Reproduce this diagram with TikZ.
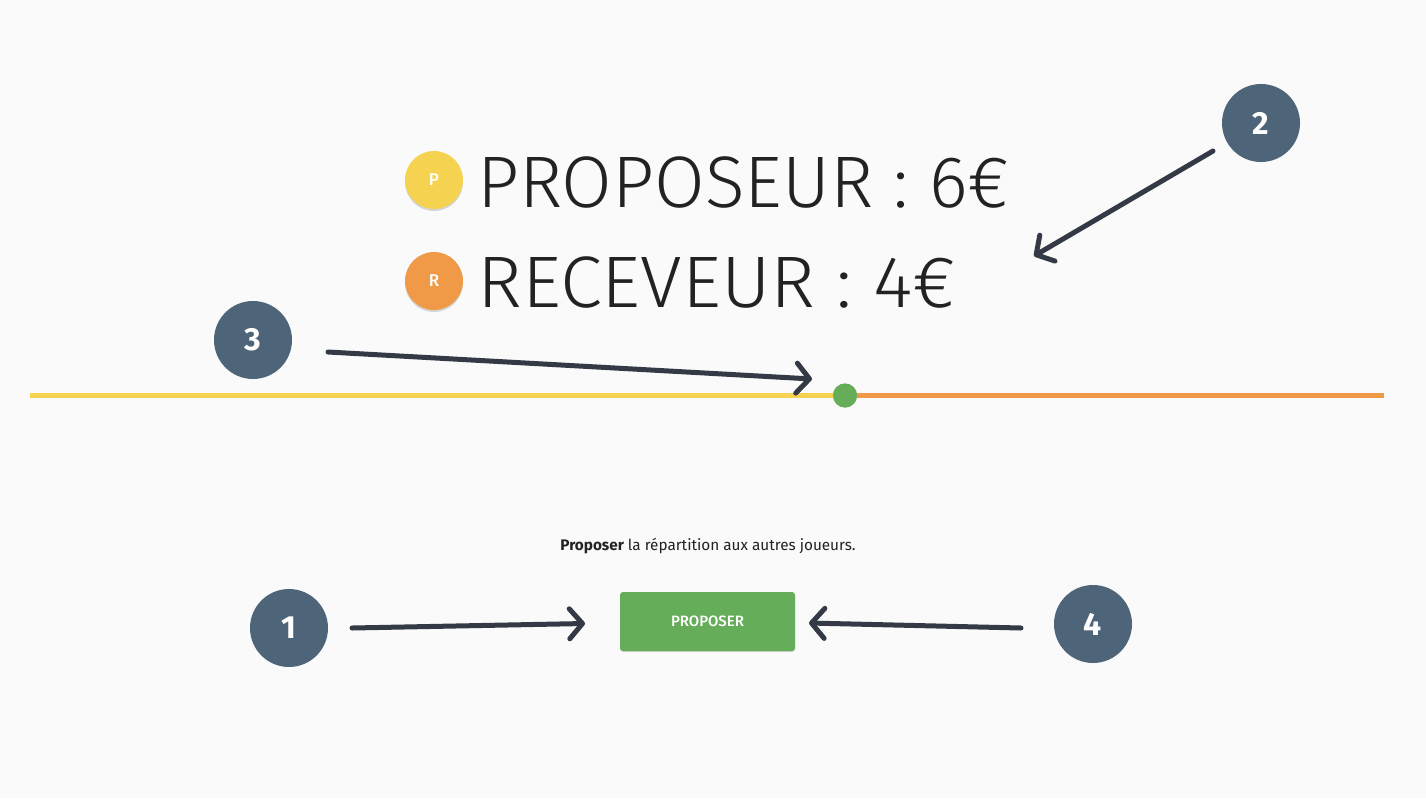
\documentclass[tikz,border=0pt]{standalone}
\usepackage{fontspec}
\setmainfont{Fira Sans}
\newfontfamily\lightfont{Fira Sans}[UprightFont={* Light}]
\newfontfamily\medfont{Fira Sans}[UprightFont={* Medium}]
\usetikzlibrary{arrows.meta,shadows}
\definecolor{bgc}{HTML}{FAFAFA}
\definecolor{yel}{HTML}{F5D24F}
\definecolor{ora}{HTML}{F09A48}
\definecolor{grn}{HTML}{66AD5A}
\definecolor{slate}{HTML}{4E6479}
\definecolor{arr}{HTML}{333A45}
\definecolor{txt}{HTML}{222222}
\tikzset{
  numcirc/.style={circle, fill=slate, minimum size=78pt, inner sep=0pt, text=white, font=\bfseries\fontsize{32}{32}\selectfont},
  rolecirc/.style={circle, minimum size=58pt, inner sep=0pt, text=white, font=\medfont\fontsize{17}{17}\selectfont,
     drop shadow={shadow xshift=0pt, shadow yshift=-2pt, opacity=0.15, fill=black}},
  bigtext/.style={anchor=base west, inner sep=0pt, text=txt, font=\lightfont\fontsize{73}{73}\selectfont},
  pointer/.style={draw=arr, line width=5pt, line cap=round, -{Straight Barb[length=13pt, width=30pt, round]}},
  btnstyle/.style={rounded corners=3pt, fill=grn, minimum width=175pt, minimum height=59pt, text=white,
     font=\medfont\fontsize{15}{15}\selectfont,
     drop shadow={shadow xshift=0pt, shadow yshift=-1pt, opacity=0.15, fill=black}},
  bar/.style={line width=5pt},
}
\begin{document}
\begin{tikzpicture}[x=1pt,y=-1pt]
\fill[bgc] (0,0) rectangle (1426,798);
\useasboundingbox (0,0) rectangle (1426,798);
% score lines
\node[rolecirc, fill=yel] (pc) at (434,180) {P};
\node[rolecirc, fill=ora] (rc) at (434,281) {R};
\node[bigtext, xscale=1.005] (prop) at (477,207) {PROPOSEUR : 6€};
\node[bigtext, xscale=1.04] (recv) at (477,307) {RECEVEUR : 4€};
% slider
\coordinate (sl) at (30,395.5);
\coordinate (sr) at (1384,395.5);
\node[circle, fill=grn, minimum size=24pt, inner sep=0pt] (knob) at (845,395.5) {};
\draw[bar, yel] (sl) -- (knob.center);
\draw[bar, ora] (knob.center) -- (sr);
\node[circle, fill=grn, minimum size=24pt, inner sep=0pt] at (knob) {};
% caption and button
\node[text=txt, font=\fontsize{15.3}{15.3}\selectfont] (cap) at (708,546) {\textbf{Proposer} la répartition aux autres joueurs.};
\node[btnstyle] (btn) at (707.5,621.5) {PROPOSER};
% numbered markers
\node[numcirc] (n1) at (289,628) {1};
\node[numcirc] (n2) at (1261,123) {2};
\node[numcirc] (n3) at (253,340) {3};
\node[numcirc] (n4) at (1093,624) {4};
% pointers
\coordinate (a1s) at (352,628); \coordinate (a1e) at (585,623.5);
\coordinate (a2s) at (1213,151); \coordinate (a2e) at (1034,256);
\coordinate (a3s) at (328,352); \coordinate (a3e) at (812,379);
\coordinate (a4s) at (1021,628); \coordinate (a4e) at (809,623);
\draw[pointer] (a1s) -- (a1e);
\draw[pointer] (a2s) -- (a2e);
\draw[pointer] (a3s) -- (a3e);
\draw[pointer] (a4s) -- (a4e);
\end{tikzpicture}
\end{document}
